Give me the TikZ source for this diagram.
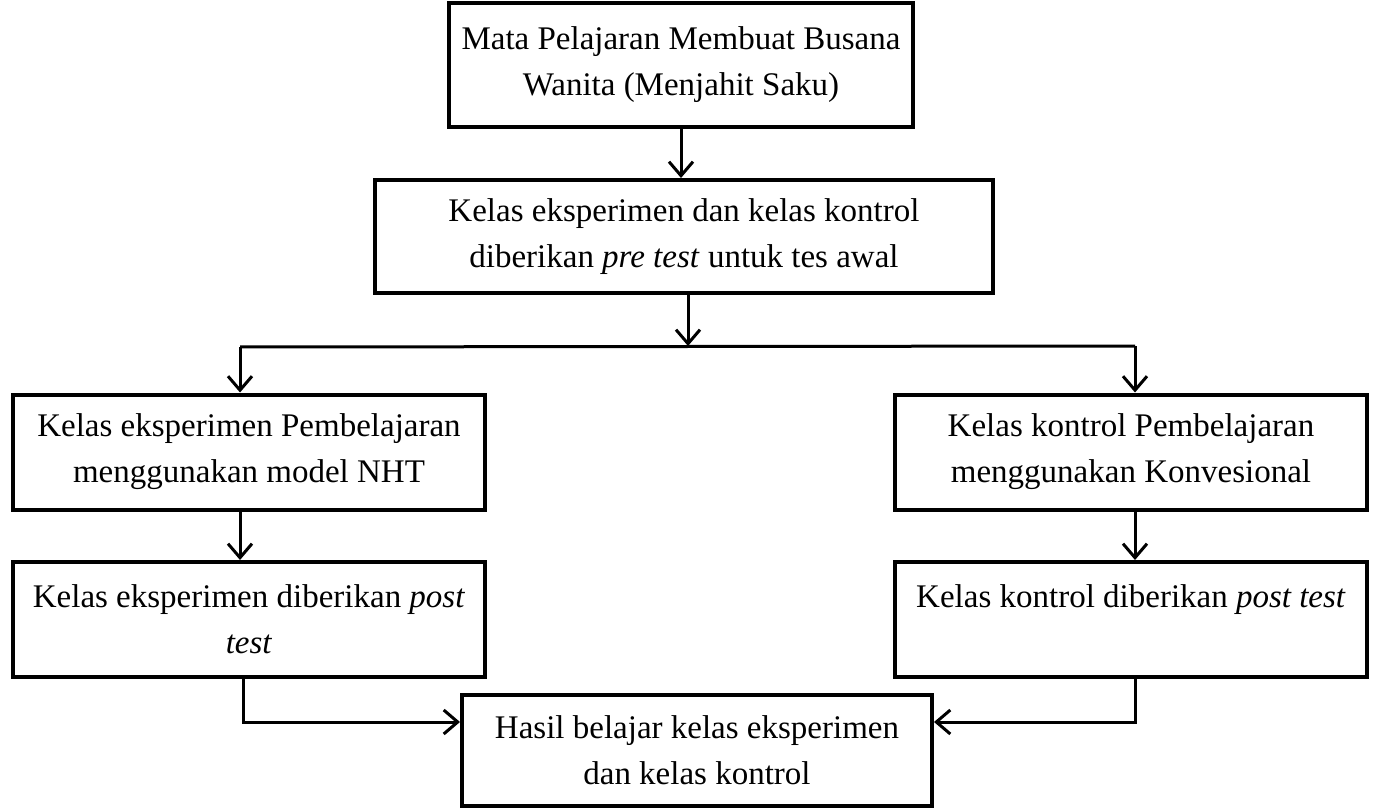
\documentclass[tikz,border=0pt]{standalone}
\usepackage{fontspec}
\setmainfont{Liberation Serif}
\usetikzlibrary{arrows.meta}

\begin{document}
\begin{tikzpicture}[x=0.5pt,y=-0.5pt]
\tikzstyle{kotak}=[draw,line width=2pt,align=center,inner sep=0pt,font=\fontsize{16.5}{23}\selectfont]
\tikzstyle{panah}=[line width=1.5pt,-{Straight Barb[length=7pt,width=12pt]}]
\tikzstyle{garis}=[line width=1.5pt]
\useasboundingbox (0,0) rectangle (1373,808);
% kotak-kotak
\node[kotak,minimum width=232pt,minimum height=62pt] (mapel) at (681,65) {Mata Pelajaran Membuat Busana\\Wanita (Menjahit Saku)};
\node[kotak,minimum width=309pt,minimum height=56.5pt] (pretest) at (684,236.5) {Kelas eksperimen dan kelas kontrol\\diberikan \textit{pre test} untuk tes awal};
\node[kotak,minimum width=236pt,minimum height=57.5pt] (eksnht) at (249,452) {Kelas eksperimen Pembelajaran\\menggunakan model NHT};
\node[kotak,minimum width=236pt,minimum height=57.5pt] (ekspost) at (249,619.5) {Kelas eksperimen diberikan \textit{post}\\\textit{test}};
\node[kotak,minimum width=236pt,minimum height=57.5pt] (konpost) at (1131,619.5) {Kelas kontrol diberikan \textit{post test}\\\phantom{\textit{test}}};
\node[kotak,minimum width=236pt,minimum height=57.5pt] (konkonv) at (1131,452) {Kelas kontrol Pembelajaran\\menggunakan Konvesional};
\node[kotak,minimum width=235pt,minimum height=55.5pt] (hasil) at (697,750.5) {Hasil belajar kelas eksperimen\\dan kelas kontrol};
% cabang
\coordinate (cabkiri) at (240,347);
\coordinate (cabkanan) at (1135,346);
\coordinate (cabtengah) at (688,346);
\coordinate (gabkiri) at (243,722);
\coordinate (gabkanan) at (1135,722);
% panah
\draw[panah] (mapel.south) -- (mapel.south |- pretest.north);
\draw[panah] (pretest.south -| cabtengah) -- (cabtengah);
\draw[garis] (cabkiri) -- (cabkanan);
\draw[panah] (cabkiri) -- (eksnht.north -| cabkiri);
\draw[panah] (cabkanan) -- (konkonv.north -| cabkanan);
\draw[panah] (eksnht.south -| cabkiri) -- (ekspost.north -| cabkiri);
\draw[panah] (konkonv.south -| cabkanan) -- (konpost.north -| cabkanan);
\draw[panah] (ekspost.south -| gabkiri) -- (gabkiri) -- (hasil.west |- gabkiri);
\draw[panah] (konpost.south -| gabkanan) -- (gabkanan) -- (hasil.east |- gabkanan);
\end{tikzpicture}
\end{document}
